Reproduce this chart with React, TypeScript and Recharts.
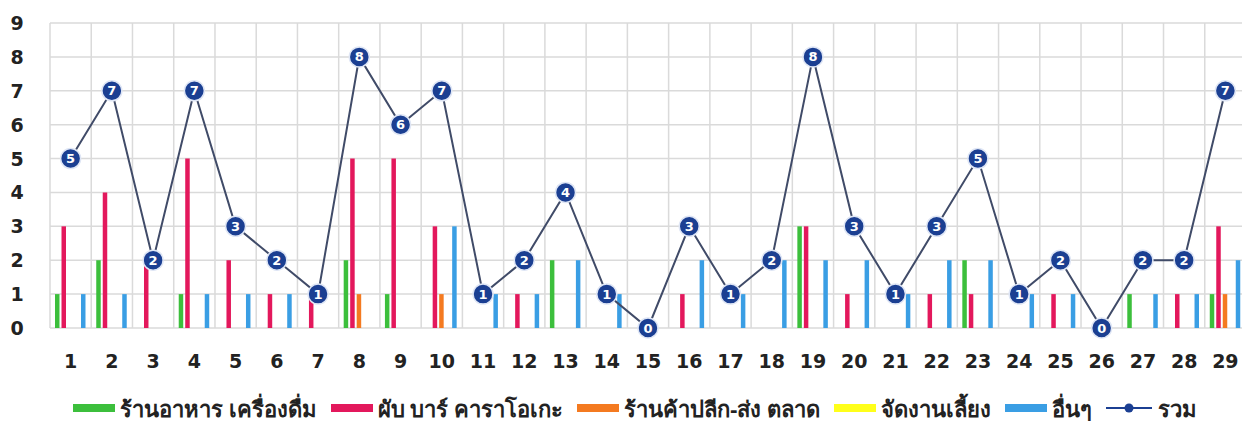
import {
  ComposedChart,
  Bar,
  Line,
  XAxis,
  YAxis,
  CartesianGrid,
  Legend,
} from "recharts";

const days = [
  "1", "2", "3", "4", "5", "6", "7", "8", "9", "10",
  "11", "12", "13", "14", "15", "16", "17", "18", "19", "20",
  "21", "22", "23", "24", "25", "26", "27", "28", "29",
];

const food = [1, 2, 0, 1, 0, 0, 0, 2, 1, 0, 0, 0, 2, 0, 0, 0, 0, 0, 3, 0, 0, 0, 2, 0, 0, 0, 1, 0, 1];
const pub = [3, 4, 2, 5, 2, 1, 1, 5, 5, 3, 0, 1, 0, 0, 0, 1, 0, 0, 3, 1, 0, 1, 1, 0, 1, 0, 0, 1, 3];
const shop = [0, 0, 0, 0, 0, 0, 0, 1, 0, 1, 0, 0, 0, 0, 0, 0, 0, 0, 0, 0, 0, 0, 0, 0, 0, 0, 0, 0, 1];
const party = [0, 0, 0, 0, 0, 0, 0, 0, 0, 0, 0, 0, 0, 0, 0, 0, 0, 0, 0, 0, 0, 0, 0, 0, 0, 0, 0, 0, 0];
const other = [1, 1, 0, 1, 1, 1, 0, 0, 0, 3, 1, 1, 2, 1, 0, 2, 1, 2, 2, 2, 1, 2, 2, 1, 1, 0, 1, 1, 2];
const total = [5, 7, 2, 7, 3, 2, 1, 8, 6, 7, 1, 2, 4, 1, 0, 3, 1, 2, 8, 3, 1, 3, 5, 1, 2, 0, 2, 2, 7];

const yTicks = [0, 1, 2, 3, 4, 5, 6, 7, 8, 9];

const series = [
  { key: "food", name: "ร้านอาหาร เครื่องดื่ม", color: "#3cbf3c" },
  { key: "pub", name: "ผับ บาร์ คาราโอเกะ", color: "#e3185c" },
  { key: "shop", name: "ร้านค้าปลีก-ส่ง ตลาด", color: "#f47a20" },
  { key: "party", name: "จัดงานเลี้ยง", color: "#ffff1a" },
  { key: "other", name: "อื่นๆ", color: "#3a9ee4" },
];

const data = days.map((d, i) => ({
  day: d,
  food: food[i],
  pub: pub[i],
  shop: shop[i],
  party: party[i],
  other: other[i],
  total: total[i],
}));

const FONT = "'DejaVu Sans', sans-serif";
const NAVY = "#1b3f92";

function YTick(props: any) {
  const { y, payload } = props;
  return (
    <text x={17} y={y} textAnchor="middle" dominantBaseline="central"
      fontFamily={FONT} fontWeight="bold" fontSize={19} fill="#222">
      {payload.value}
    </text>
  );
}

function XTick(props: any) {
  const { x, y, payload } = props;
  return (
    <text x={x} y={y + 40} textAnchor="middle"
      fontFamily={FONT} fontWeight="bold" fontSize={19} fill="#222">
      {payload.value}
    </text>
  );
}

function TotalDot(props: any) {
  const { cx, cy, value, index } = props;
  if (cx == null || cy == null) return null;
  return (
    <g key={index}>
      <circle cx={cx} cy={cy} r={10} fill={NAVY} stroke="#dfe6f5" strokeWidth={1.5} />
      <text x={cx} y={cy} textAnchor="middle" dominantBaseline="central"
        fontFamily={FONT} fontWeight="bold" fontSize={13} fill="#fff">
        {value}
      </text>
    </g>
  );
}

function LegendBox() {
  return (
    <div style={{
      display: "flex", justifyContent: "flex-start", alignItems: "center",
      fontFamily: "'Noto Sans', 'DejaVu Sans', sans-serif", fontSize: 22,
      fontWeight: "bold", color: "#222", paddingLeft: 73, lineHeight: "28px",
    }}>
      {series.map((s) => (
        <div key={s.key} style={{ display: "flex", alignItems: "center", marginRight: 14 }}>
          <span style={{ display: "inline-block", width: 42, height: 8, background: s.color, marginRight: 5 }} />
          <span>{s.name}</span>
        </div>
      ))}
      <div style={{ display: "flex", alignItems: "center" }}>
        <svg width={46} height={12}>
          <line x1={0} y1={6} x2={46} y2={6} stroke={NAVY} strokeWidth={2} />
          <circle cx={23} cy={6} r={4.5} fill={NAVY} />
        </svg>
        <span style={{ marginLeft: 6 }}>รวม</span>
      </div>
    </div>
  );
}

export default function App() {
  return (
    <div style={{ position: "absolute", left: 0, top: 0, width: 1242, height: 422, overflow: "hidden", background: "#fff" }}>
      <ComposedChart
        width={1246}
        height={422}
        data={data}
        margin={{ top: 23, right: 0, bottom: 0, left: 0 }}
        barSize={4.5}
        barGap={2}
      >
        <CartesianGrid
          stroke="#dadada"
          strokeWidth={1.5}
          verticalCoordinatesGenerator={({ offset }: any) =>
            days.map((_, i) => offset.left + (offset.width * i) / days.length)
          }
        />
        <XAxis dataKey="day" tickLine={false} axisLine={false} tickSize={0} tickMargin={0}
          height={66} tick={<XTick />} interval={0} />
        <YAxis domain={[0, 9]} ticks={yTicks} tickLine={false} axisLine={false}
          width={50} tick={<YTick />} interval={0} />
        <Legend verticalAlign="bottom" height={28} content={() => <LegendBox />} />
        {series.map((s) => (
          <Bar key={s.key} dataKey={s.key} name={s.name} fill={s.color} isAnimationActive={false} />
        ))}
        <Line
          dataKey="total"
          name="รวม"
          stroke="#404b68"
          strokeWidth={2}
          dot={<TotalDot />}
          activeDot={false}
          isAnimationActive={false}
        />
      </ComposedChart>
    </div>
  );
}
